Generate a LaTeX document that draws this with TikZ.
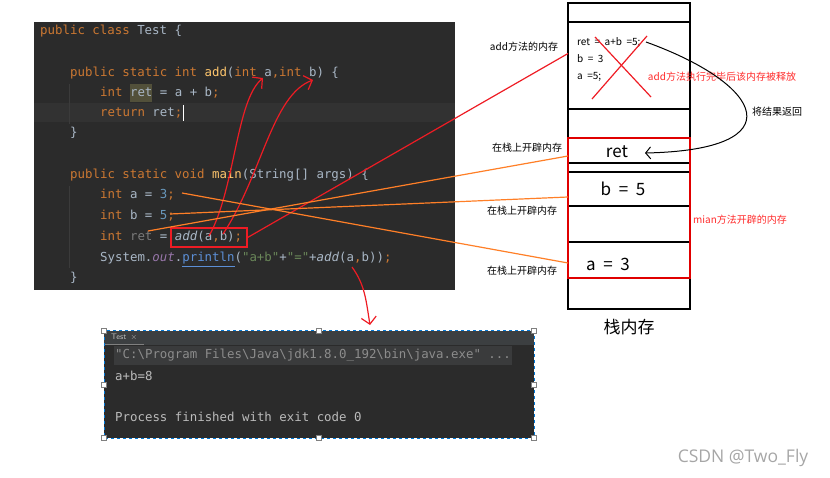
\documentclass[tikz,border=0pt]{standalone}
\usepackage{fontspec}
\setmonofont{DejaVu Sans Mono}
\newfontfamily\cjk{Noto Sans CJK SC}
\newfontfamily\wmfont{Open Sans}
\usepackage{tikz}
\usetikzlibrary{arrows.meta,positioning,calc,fit}

\definecolor{ideBg}{HTML}{2B2B2B}
\definecolor{tabBg}{HTML}{3C3F41}
\definecolor{rowHl}{HTML}{3A3B3C}
\definecolor{caretLine}{HTML}{323232}
\definecolor{retHl}{HTML}{52503A}
\definecolor{guideGrey}{HTML}{3B3B3B}
\definecolor{kwOrange}{HTML}{CC7832}
\definecolor{idGrey}{HTML}{A9B7C6}
\definecolor{fnYellow}{HTML}{FFC66D}
\definecolor{numBlue}{HTML}{6897BB}
\definecolor{strGreen}{HTML}{6A8759}
\definecolor{fieldPurple}{HTML}{9876AA}
\definecolor{unusedGrey}{HTML}{7A7A7A}
\definecolor{linkBlue}{HTML}{5C8FD6}
\definecolor{cmdGrey}{HTML}{8C8C8C}
\definecolor{outGrey}{HTML}{BBBBBB}
\definecolor{penRed}{HTML}{EE1C24}
\definecolor{penOrange}{HTML}{FF7F27}
\definecolor{memRed}{HTML}{E00000}
\definecolor{noteRed}{HTML}{FF2A2A}
\definecolor{selBlue}{HTML}{0078D7}

% java colouring
\newcommand{\jkw}[1]{\textcolor{kwOrange}{#1}}
\newcommand{\jfn}[1]{\textcolor{fnYellow}{#1}}
\newcommand{\jnum}[1]{\textcolor{numBlue}{#1}}
\newcommand{\jstr}[1]{\textcolor{strGreen}{#1}}
\newcommand{\jfld}[1]{\textcolor{fieldPurple}{#1}}
\newcommand{\jgrey}[1]{\textcolor{unusedGrey}{#1}}
\newcommand{\jlink}[1]{\textcolor{linkBlue}{\underline{#1}}}
% wide space as in the stack cells
\newcommand{\wsp}{\hspace{0.45em}}

\begin{document}
\begin{tikzpicture}[
    x=1pt, y=-1pt,
    codeline/.style={anchor=base west, inner sep=0pt, font=\ttfamily\fontsize{12.4}{14}\selectfont, text=idGrey},
    cell/.style={draw=black, line width=1.3pt, minimum width=122pt, inner sep=0pt, outer sep=0pt},
    stackText/.style={font=\cjk\fontsize{17}{20}\selectfont, inner sep=0pt},
    note/.style={font=\cjk\fontsize{10}{12}\selectfont, inner sep=0pt},
    redNote/.style={note, text=noteRed},
    pen/.style={draw=penRed, line width=1.2pt},
    handArrow/.style={pen, -{Straight Barb[length=7pt, width=15pt]}},
    orangeLine/.style={draw=penOrange, line width=1.2pt},
    handle/.style={draw=gray, fill=white, minimum size=5pt, inner sep=0pt}
]
  \useasboundingbox (0,0) rectangle (830,478);

  % code editor
  \node[fill=ideBg, minimum width=421pt, minimum height=268pt, anchor=north west, inner sep=0pt, outer sep=0pt] (editor) at (34,22) {};
  \fill[caretLine] (34,103) rectangle (455,122);
  \fill[retHl] (130,84) rectangle (152,102);
  \draw[guideGrey] (69,84) -- (69,124);
  \draw[guideGrey] (69,186) -- (69,268);
  \draw[white, line width=0.8pt] (183,105) -- (183,121);

  \node[codeline] (ln1) at (40,35) {\jkw{public class} Test \{};
  \node[codeline] (ln2) at (70,77) {\jkw{public static int} \jfn{add}(\jkw{int} a\jkw{,}\jkw{int} b) \{};
  \node[codeline] (ln3) at (100,97) {\jkw{int} ret = a + b\jkw{;}};
  \node[codeline] (ln4) at (100,117) {\jkw{return} ret\jkw{;}};
  \node[codeline] (ln5) at (70,137) {\}};
  \node[codeline] (ln6) at (70,179) {\jkw{public static void} \jfn{main}(String[] args) \{};
  \node[codeline] (ln7) at (100,199) {\jkw{int} a = \jnum{3}\jkw{;}};
  \node[codeline] (ln8) at (100,220) {\jkw{int} b = \jnum{5}\jkw{;}};
  \node[codeline] (ln9) at (100,241) {\jkw{int} \jgrey{ret} = \textit{add}(a\jkw{,}b)\jkw{;}};
  \node[codeline] (ln10) at (100,262) {System.\jfld{\textit{out}}.\jlink{println}(\jstr{"a+b"}+\jstr{"="}+\textit{add}(a\jkw{,}b))\jkw{;}};
  \node[codeline] (ln11) at (70,282) {\}};

  \node[draw=penRed, line width=1.2pt, minimum width=76pt, minimum height=19pt, inner sep=0pt] (callbox) at (209,237.5) {};

  \coordinate (argA) at (209,236);
  \coordinate (argB) at (223,234);
  \coordinate (parA) at (263,78);
  \coordinate (parB) at (313,80);
  \coordinate (printA) at (352,267);
  \coordinate (retVar) at (148,231);
  \coordinate (bVal) at (170,214);
  \coordinate (aVal) at (182,193);

  % stack memory
  \node[cell, minimum height=19pt] (rowTop) at (629,12.5) {};
  \node[cell, minimum height=87pt, below=0pt of rowTop] (addmem) {};
  \node[cell, minimum height=29pt, below=0pt of addmem] (gap1) {};
  \node[cell, minimum height=25pt, below=0pt of gap1] (rowRet) {};
  \node[cell, minimum height=9pt, below=0pt of rowRet] (gap2) {};
  \node[cell, minimum height=34pt, below=0pt of gap2] (rowB) {};
  \node[cell, minimum height=36pt, below=0pt of rowB] (gap3) {};
  \node[cell, minimum height=36pt, below=0pt of gap3] (rowA) {};
  \node[cell, minimum height=31pt, below=0pt of rowA] (rowBot) {};
  \node[fit=(rowRet)(rowA), draw=memRed, line width=1.5pt, inner sep=0pt] (mainmem) {};

  \node[stackText] (retTxt) at ([xshift=-12pt, yshift=-1pt]rowRet.center) {ret};
  \node[stackText] (bTxt) at ([xshift=-6pt]rowB.center) {b\wsp=\wsp5};
  \node[stackText] (aTxt) at ([xshift=-21pt, yshift=-4pt]rowA.center) {a\wsp=\wsp3};
  \node[note, anchor=west, align=left, font=\cjk\fontsize{10}{17}\selectfont] (addVars) at (577,59) {ret\wsp=\wsp a+b\wsp=5;\\b\wsp=\wsp3\\a\wsp=5;};
  \node[stackText, below=10pt of rowBot] (stackLbl) {栈内存};

  % released
  \draw[pen] (595,37) -- (651,97);
  \draw[pen] (647,36) -- (592,99);
  \node[redNote] (releaseLbl) at (722,77) {add方法执行完毕后该内存被释放};
  \node[redNote, anchor=west] (mainLbl) at (693,220) {mian方法开辟的内存};

  \node[note] (addLbl) at (524,47) {add方法的内存};
  \node[note] (pushRet) at (527,148) {在栈上开辟内存};
  \node[note] (pushB) at (522,211) {在栈上开辟内存};
  \node[note] (pushA) at (522,271) {在栈上开辟内存};

  % return value
  \coordinate (retFrom) at (646,42);
  \coordinate (retTo) at ([xshift=16pt, yshift=-2.5pt]rowRet.center);
  \draw[black, line width=1pt, -{Straight Barb[length=5pt, width=12pt]}] (retFrom) .. controls (765,85) and (795,150) .. (retTo);
  \node[note] (returnLbl) at (777,112) {将结果返回};

  % connectors
  \draw[pen] (callbox.east) -- ([yshift=12pt]addmem.west);
  \draw[handArrow] (argA) .. controls (235,190) and (236,100) .. (parA);
  \draw[handArrow] (argB) .. controls (262,175) and (272,95) .. (parB);
  \draw[orangeLine] (retVar) -- ([yshift=-5.5pt]rowRet.west);
  \draw[orangeLine] (bVal) -- ([yshift=-8pt]rowB.west);
  \draw[orangeLine] (aVal) -- ([yshift=-3pt]rowA.west);

  % console
  \node[fill=ideBg, minimum width=430pt, minimum height=107pt, anchor=north west, inner sep=0pt, outer sep=0pt] (console) at (104,331) {};
  \fill[tabBg] (104,331) rectangle (534,345);
  \draw[gray, line width=1pt] (105,344) -- (144,344);
  \node[inner sep=0pt, text=outGrey, font=\sffamily\fontsize{8}{9}\selectfont, anchor=west] (tab) at (111,337) {Test \,$\times$};
  \fill[rowHl] (114,346) rectangle (512,365);
  \node[codeline, text=cmdGrey] (cmd) at (115,359) {"C:\textbackslash Program Files\textbackslash Java\textbackslash jdk1.8.0\_192\textbackslash bin\textbackslash java.exe" ...};
  \node[codeline, text=outGrey] (out1) at (115,380) {a+b=8};
  \node[codeline, text=outGrey] (out2) at (115,421) {Process finished with exit code 0};
  \draw[selBlue, dashed, line width=1pt] (console.north west) rectangle (console.south east);
  \foreach \h in {north west, north, north east, west, east, south west, south, south east}
    \node[handle] at (console.\h) {};

  \coordinate (consoleIn) at (370,325);
  \draw[handArrow] (printA) .. controls (365,285) and (366,300) .. (consoleIn);

  \node[font=\wmfont\fontsize{17.5}{20}\selectfont, text=gray!70, inner sep=0pt] (mark) at (743,458) {CSDN @Two\_Fly};
\end{tikzpicture}
\end{document}
